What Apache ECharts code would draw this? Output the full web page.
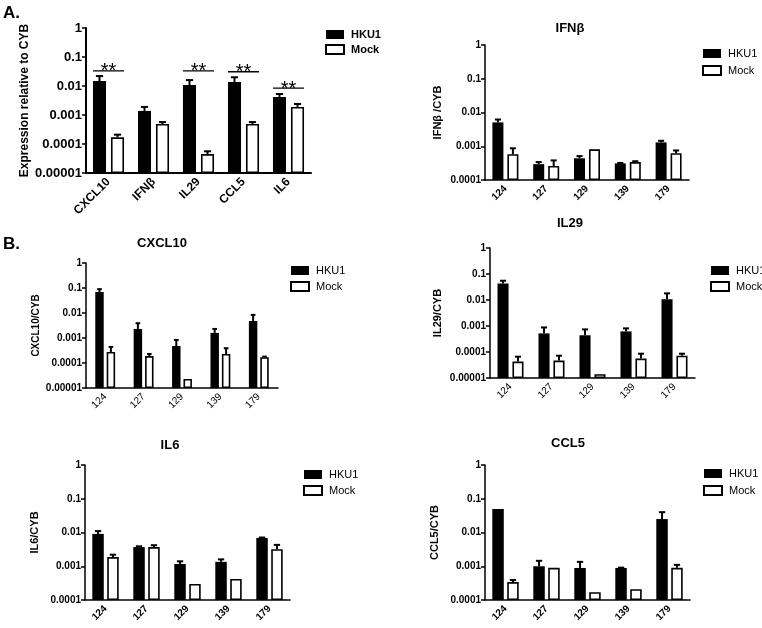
<!DOCTYPE html>
<html><head><meta charset="utf-8">
<script src="https://cdn.jsdelivr.net/npm/echarts@6/dist/echarts.min.js"></script>
<style>html,body{margin:0;padding:0;background:#fff}#c{width:762px;height:628px}</style>
</head><body><div id="c"></div><script>
// ---------- DATA ----------
const summaryGenes = ['CXCL10', 'IFNβ', 'IL29', 'CCL5', 'IL6'];
const summaryHKU1 = [0.0148, 0.00138, 0.0108, 0.0138, 0.0042];
const summaryHKU1Top = [0.022, 0.0019, 0.016, 0.020, 0.0053];
const summaryMock = [0.00017, 0.00049, 0.000045, 0.00049, 0.0019];
const summaryMockTop = [0.00021, 0.00057, 0.000056, 0.00057, 0.0024];
const sigIndex = [0, 2, 3, 4];
const sigLevel = [0.033, 0.033, 0.031, 0.0085];
const sigText = '**';

const donors = ['124', '127', '129', '139', '179'];
const ifnbHKU1 = [0.0051, 0.000295, 0.00044, 0.00031, 0.0013];
const ifnbHKU1Top = [0.0062, 0.00034, 0.00051, 0.00032, 0.00145];
const ifnbMock = [0.00058, 0.00026, 0.00081, 0.00034, 0.00062];
const ifnbMockTop = [0.00087, 0.00038, null, 0.00036, 0.00075];

const cxcl10HKU1 = [0.069, 0.0023, 0.00048, 0.0016, 0.0048];
const cxcl10HKU1Top = [0.09, 0.0039, 0.00083, 0.0023, 0.0084];
const cxcl10Mock = [0.000275, 0.00019, 0.000023, 0.00023, 0.00017];
const cxcl10MockTop = [0.00044, 0.00023, null, 0.00039, 0.00018];

const il29HKU1 = [0.043, 0.00052, 0.00044, 0.00062, 0.0107];
const il29HKU1Top = [0.055, 0.00088, 0.00074, 0.00081, 0.018];
const il29Mock = [0.000043, 0.000047, 0.000014, 0.000056, 0.000072];
const il29MockTop = [0.000066, 0.000072, null, 0.000086, 0.000086];

const il6HKU1 = [0.0091, 0.0037, 0.00117, 0.00135, 0.0069];
const il6HKU1Top = [0.011, 0.0039, 0.0014, 0.0016, 0.0071];
const il6Mock = [0.00187, 0.0037, 0.0003, 0.00042, 0.0032];
const il6MockTop = [0.0022, 0.0042, null, null, 0.0043];

const ccl5HKU1 = [0.05, 0.001, 0.00089, 0.00089, 0.025];
const ccl5HKU1Top = [null, 0.00145, 0.00135, 0.00091, 0.04];
const ccl5Mock = [0.00034, 0.0009, 0.00017, 0.00021, 0.0009];
const ccl5MockTop = [0.00039, null, null, null, 0.0011];

const tickLabels = ['0.00001', '0.0001', '0.001', '0.01', '0.1', '1'];
const seriesNames = ['HKU1', 'Mock'];

// ---------- LAYOUT ----------
const FONT = 'Liberation Sans, Arial, sans-serif';
const panels = [
  {cats: summaryGenes, h: summaryHKU1, hT: summaryHKU1Top, m: summaryMock, mT: summaryMockTop, min: 1e-5,
   grid: {left: 86, top: 28, width: 225, height: 145}, yName: 'Expression relative to CYB', nameGap: 52, nameSize: 12,
   labelSize: 13, xLabelSize: 12, xBold: true, bw: 0.29, bg: 0.38, axisW: 2,
   legend: {left: 325, top: 29, gap: 4}, legendBold: true, title: null},
  {cats: donors, h: ifnbHKU1, hT: ifnbHKU1Top, m: ifnbMock, mT: ifnbMockTop, min: 1e-4,
   grid: {left: 485, top: 45, width: 204, height: 135}, yName: 'IFNβ /CYB', nameGap: 42, nameSize: 11,
   labelSize: 10, xLabelSize: 10, xBold: true, bw: 0.27, bg: 0.36, axisW: 1.5,
   legend: {left: 702, top: 48, gap: 6}, title: {text: 'IFNβ', x: 570, y: 28}},
  {cats: donors, h: cxcl10HKU1, hT: cxcl10HKU1Top, m: cxcl10Mock, mT: cxcl10MockTop, min: 1e-5,
   grid: {left: 86, top: 263, width: 192, height: 125}, yName: 'CXCL10/CYB', nameGap: 45, nameSize: 10,
   labelSize: 10, xLabelSize: 10, xBold: false, bw: 0.22, bg: 0.35, axisW: 1.5,
   legend: {left: 290, top: 265, gap: 5}, title: {text: 'CXCL10', x: 162, y: 243}},
  {cats: donors, h: il29HKU1, hT: il29HKU1Top, m: il29Mock, mT: il29MockTop, min: 1e-5,
   grid: {left: 490, top: 248, width: 205, height: 130}, yName: 'IL29/CYB', nameGap: 47, nameSize: 11,
   labelSize: 10, xLabelSize: 10, xBold: false, bw: 0.27, bg: 0.35, axisW: 1.5,
   legend: {left: 710, top: 265, gap: 5}, title: {text: 'IL29', x: 570, y: 223}},
  {cats: donors, h: il6HKU1, hT: il6HKU1Top, m: il6Mock, mT: il6MockTop, min: 1e-4,
   grid: {left: 85, top: 465, width: 205, height: 135}, yName: 'IL6/CYB', nameGap: 45, nameSize: 11,
   labelSize: 10, xLabelSize: 10, xBold: true, bw: 0.28, bg: 0.3, axisW: 1.5,
   legend: {left: 303, top: 469, gap: 5}, title: {text: 'IL6', x: 170, y: 445}},
  {cats: donors, h: ccl5HKU1, hT: ccl5HKU1Top, m: ccl5Mock, mT: ccl5MockTop, min: 1e-4,
   grid: {left: 485, top: 465, width: 205, height: 135}, yName: 'CCL5/CYB', nameGap: 45, nameSize: 11,
   labelSize: 10, xLabelSize: 10, xBold: true, bw: 0.28, bg: 0.3, axisW: 1.5,
   legend: {left: 703, top: 468, gap: 6}, title: {text: 'CCL5', x: 568, y: 443}}
];

function fmtTick(v) {
  const e = Math.round(Math.log10(v));
  return tickLabels[e + 5] !== undefined ? tickLabels[e + 5] : String(v);
}

function errRenderer(sign, bw, bg) {
  return function (params, api) {
    const ci = api.value(0);
    const lo = api.value(1), hi = api.value(2);
    const p0 = api.coord([ci, lo]);
    const p1 = api.coord([ci, hi]);
    const band = api.coord([1, lo])[0] - api.coord([0, lo])[0];
    const barW = band * bw, gap = barW * bg;
    const x = p0[0] + sign * (gap / 2 + barW / 2);
    const cap = barW * 0.55;
    return {
      type: 'group',
      children: [
        {type: 'line', shape: {x1: x, y1: p0[1], x2: x, y2: p1[1]}, style: {stroke: '#000', lineWidth: 2}},
        {type: 'line', shape: {x1: x - cap / 2, y1: p1[1], x2: x + cap / 2, y2: p1[1]}, style: {stroke: '#000', lineWidth: 2}}
      ]
    };
  };
}

function sigRenderer(bw, bg) {
  return function (params, api) {
    const ci = api.value(0), v = api.value(1);
    const p = api.coord([ci, v]);
    const band = api.coord([1, v])[0] - api.coord([0, v])[0];
    const barW = band * bw, gap = barW * bg;
    const half = gap / 2 + barW;
    return {
      type: 'group',
      children: [
        {type: 'line', shape: {x1: p[0] - half, y1: p[1], x2: p[0] + half, y2: p[1]}, style: {stroke: '#000', lineWidth: 1.3}},
        {type: 'text', x: p[0], y: p[1] - 9, style: {text: sigText, font: '20px ' + FONT, fill: '#000', textAlign: 'center', textVerticalAlign: 'top'}}
      ]
    };
  };
}

const grids = [], xAxes = [], yAxes = [], series = [], legends = [], graphics = [];
panels.forEach((p, i) => {
  grids.push(Object.assign({containLabel: false}, p.grid));
  xAxes.push({
    type: 'category', gridIndex: i, data: p.cats,
    axisLine: {lineStyle: {color: '#000', width: p.axisW}},
    axisTick: {alignWithLabel: true, length: 4, lineStyle: {color: '#000', width: 1.5}},
    axisLabel: {rotate: 45, fontSize: p.xLabelSize, fontWeight: p.xBold ? 'bold' : 'normal', color: '#000', margin: 7, fontFamily: FONT, interval: 0},
    splitLine: {show: false}
  });
  yAxes.push({
    type: 'log', logBase: 10, gridIndex: i, min: p.min, max: 1, startValue: p.min,
    axisLine: {show: true, lineStyle: {color: '#000', width: p.axisW}},
    axisTick: {show: true, length: 4, lineStyle: {color: '#000', width: 1.5}},
    minorTick: {show: false}, splitLine: {show: false},
    axisLabel: {formatter: fmtTick, fontSize: p.labelSize, fontWeight: 'bold', color: '#000', margin: 4, fontFamily: FONT},
    name: p.yName, nameLocation: 'middle', nameRotate: 90, nameGap: p.nameGap,
    nameTextStyle: {fontWeight: 'bold', fontSize: p.nameSize, color: '#000', fontFamily: FONT}
  });
  const bwPct = Math.round(p.bw * 100) + '%', bgPct = Math.round(p.bg * 100) + '%';
  series.push({
    name: seriesNames[0], type: 'bar', xAxisIndex: i, yAxisIndex: i, data: p.h,
    barWidth: bwPct, barGap: bgPct, itemStyle: {color: '#000'}, z: 2
  });
  series.push({
    name: seriesNames[1], type: 'bar', xAxisIndex: i, yAxisIndex: i, data: p.m,
    barWidth: bwPct, barGap: bgPct, itemStyle: {color: '#fff', borderColor: '#000', borderWidth: 1.6}, z: 2
  });
  const hErr = [], mErr = [];
  p.cats.forEach((c, k) => {
    if (p.hT[k] != null) hErr.push([k, p.h[k], p.hT[k]]);
    if (p.mT[k] != null) mErr.push([k, p.m[k], p.mT[k]]);
  });
  series.push({type: 'custom', xAxisIndex: i, yAxisIndex: i, data: hErr, encode: {x: 0, y: [1, 2]}, renderItem: errRenderer(-1, p.bw, p.bg), z: 3, silent: true});
  series.push({type: 'custom', xAxisIndex: i, yAxisIndex: i, data: mErr, encode: {x: 0, y: [1, 2]}, renderItem: errRenderer(1, p.bw, p.bg), z: 3, silent: true});
  legends.push({
    data: seriesNames, left: p.legend.left, top: p.legend.top, orient: 'vertical', icon: 'rect',
    itemWidth: 18, itemHeight: 9, itemGap: p.legend.gap, selectedMode: false, padding: 0,
    textStyle: {fontSize: 11, color: '#000', fontFamily: FONT, fontWeight: p.legendBold ? 'bold' : 'normal', padding: [0, 0, 0, 2]}
  });
  if (p.title) {
    graphics.push({type: 'text', x: p.title.x, y: p.title.y,
      style: {text: p.title.text, font: 'bold 13px ' + FONT, fill: '#000', textAlign: 'center', textVerticalAlign: 'middle'}});
  }
});

series.push({
  type: 'custom', xAxisIndex: 0, yAxisIndex: 0,
  data: sigIndex.map((c, k) => [c, sigLevel[k]]), encode: {x: 0, y: 1},
  renderItem: sigRenderer(panels[0].bw, panels[0].bg), z: 4, silent: true
});

graphics.push({type: 'text', x: 3, y: 5, style: {text: 'A.', font: 'bold 17px ' + FONT, fill: '#000'}});
graphics.push({type: 'text', x: 3, y: 236, style: {text: 'B.', font: 'bold 17px ' + FONT, fill: '#000'}});

const chart = echarts.init(document.getElementById('c'), null, {renderer: 'canvas'});
chart.setOption({
  animation: false,
  backgroundColor: '#fff',
  textStyle: {fontFamily: FONT},
  grid: grids, xAxis: xAxes, yAxis: yAxes, legend: legends, series: series, graphic: graphics
});
</script></body></html>
